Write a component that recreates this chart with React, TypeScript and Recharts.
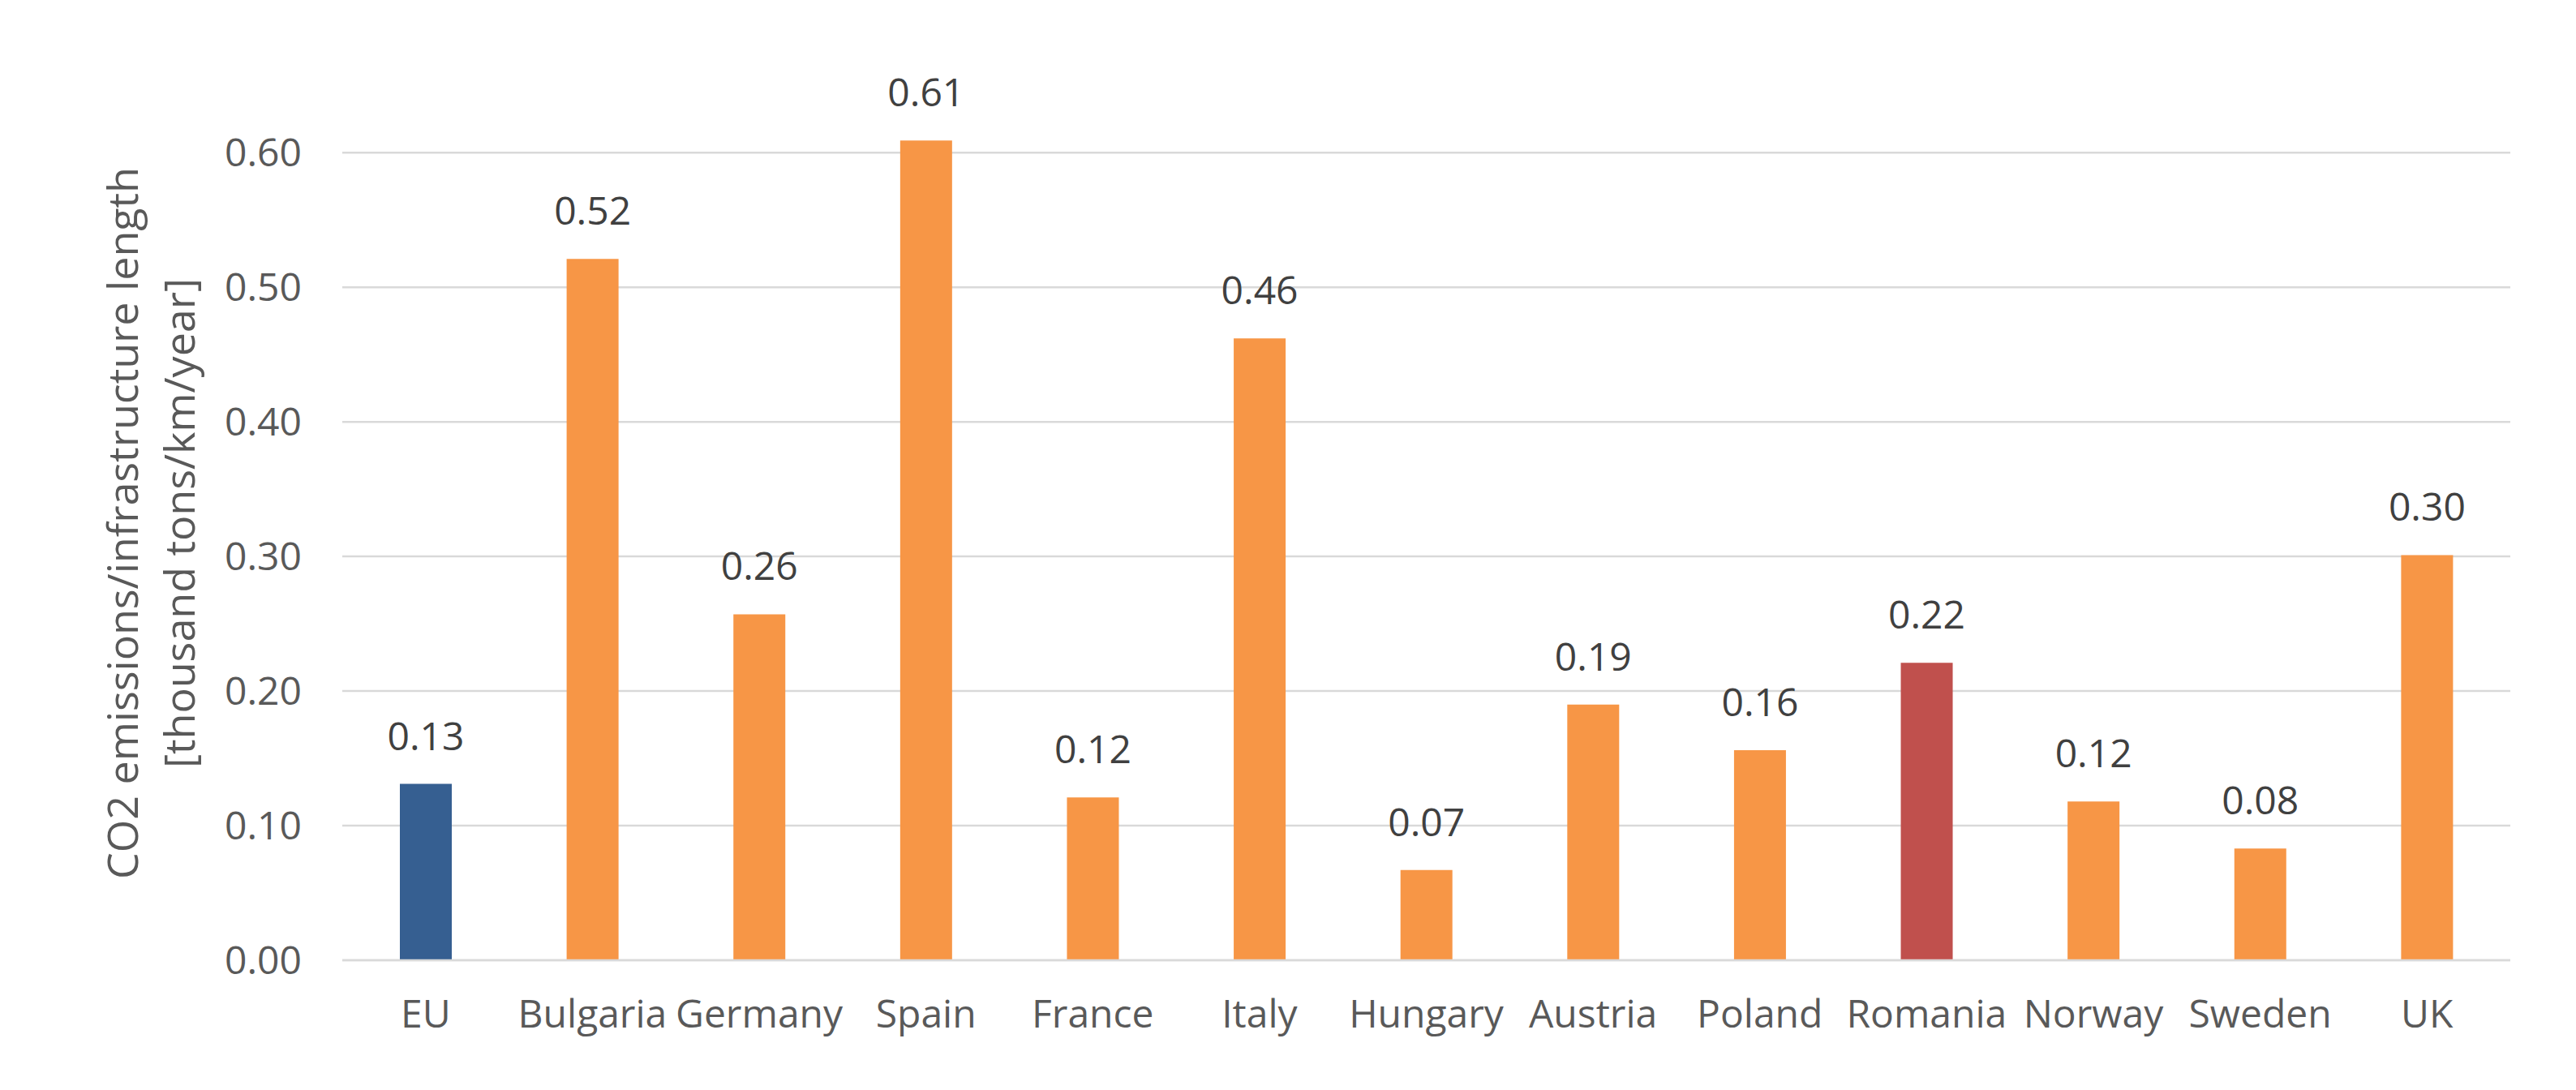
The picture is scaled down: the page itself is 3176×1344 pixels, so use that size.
import { Bar, BarChart, CartesianGrid, Cell, LabelList, XAxis, YAxis, Label } from "recharts";

const countries = ["EU", "Bulgaria", "Germany", "Spain", "France", "Italy", "Hungary", "Austria", "Poland", "Romania", "Norway", "Sweden", "UK"];
const emissions = [0.131, 0.521, 0.257, 0.609, 0.121, 0.462, 0.067, 0.19, 0.156, 0.221, 0.118, 0.083, 0.301];
const yTicks = [0, 0.1, 0.2, 0.3, 0.4, 0.5, 0.6];
const titleLines = ["CO2 emissions/infrastructure length", "[thousand tons/km/year]"];

const FONT = "'Open Sans', sans-serif";

function colorFor(name: string) {
  if (name === "EU") return "#365F91";
  if (name === "Romania") return "#C0504D";
  return "#F79646";
}

function AxisTitle() {
  const cy = 637;
  return (
    <g>
      <text x={162} y={cy} transform={`rotate(-90, 162, ${cy})`} textAnchor="middle" fontFamily={FONT} fontSize={52} fill="#595959">
        {titleLines[0]}
      </text>
      <text x={232} y={cy} transform={`rotate(-90, 232, ${cy})`} textAnchor="middle" fontFamily={FONT} fontSize={52} fill="#595959">
        {titleLines[1]}
      </text>
    </g>
  );
}

export default function App() {
  const data = countries.map((name, i) => ({ name, value: emissions[i] }));

  return (
    <BarChart width={3160} height={1328} data={data} margin={{ top: 147, right: 73, left: 0, bottom: 52 }}>
      <CartesianGrid vertical={false} horizontalValues={yTicks} stroke="#D9D9D9" strokeWidth={2.5} />
      <XAxis
        dataKey="name"
        height={100}
        tickLine={false}
        tickSize={0}
        tickMargin={49}
        axisLine={{ stroke: "#D9D9D9", strokeWidth: 2.5 }}
        tick={{ fontFamily: FONT, fontSize: 48, fill: "#595959" }}
        interval={0}
      />
      <YAxis
        width={414}
        domain={[0, 0.62]}
        ticks={yTicks}
        tickFormatter={(v: number) => v.toFixed(2)}
        tickLine={false}
        tickSize={0}
        tickMargin={50}
        axisLine={false}
        tick={{ fontFamily: FONT, fontSize: 48, fill: "#595959" }}
      >
        <Label content={() => <AxisTitle />} />
      </YAxis>
      <Bar dataKey="value" barSize={64} isAnimationActive={false}>
        {data.map((d) => (
          <Cell key={d.name} fill={colorFor(d.name)} />
        ))}
        <LabelList
          dataKey="value"
          position="top"
          offset={42}
          formatter={(v: number) => v.toFixed(2)}
          style={{ fontFamily: FONT, fontSize: 48, fill: "#404040" }}
        />
      </Bar>
    </BarChart>
  );
}
